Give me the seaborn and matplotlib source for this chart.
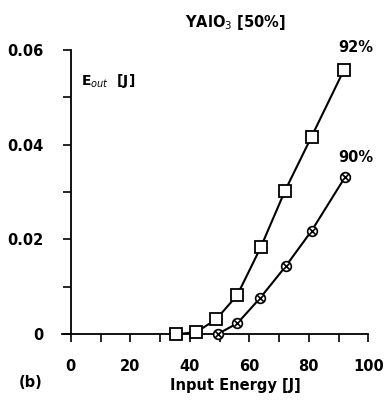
import matplotlib
matplotlib.use("Agg")
import matplotlib.pyplot as plt
import seaborn as sns
import pandas as pd

x_92 = [35.5, 42.1, 48.8, 55.9, 63.8, 72.0, 80.9, 91.8]
y_92 = [0.0, 0.0004, 0.0031, 0.0082, 0.0183, 0.0303, 0.0417, 0.0558]
x_90 = [49.3, 56.0, 63.6, 72.3, 80.9, 92.2]
y_90 = [0.0, 0.0023, 0.0076, 0.0144, 0.0218, 0.0332]
x_ticks = [0, 20, 40, 60, 80, 100]
y_ticks = [0, 0.02, 0.04, 0.06]
y_tick_labels = ["0", "0.02", "0.04", "0.06"]

sns.set_style("white")
plt.rcParams['font.family'] = ['DejaVu Sans']
plt.rcParams['text.color'] = 'black'

fig = plt.figure(figsize=(3.89, 4.05), dpi=100)
ax = fig.add_axes([0.182, 0.175, 0.765, 0.7015])

df92 = pd.DataFrame({"x": x_92, "y": y_92})
df90 = pd.DataFrame({"x": x_90, "y": y_90})

sns.lineplot(data=df92, x="x", y="y", ax=ax, color="black", lw=1.5,
             marker="s", markersize=8.5, markerfacecolor="white",
             markeredgecolor="black", markeredgewidth=1.3, zorder=3)
sns.lineplot(data=df90, x="x", y="y", ax=ax, color="black", lw=1.5,
             marker="o", markersize=7, markerfacecolor="white",
             markeredgecolor="black", markeredgewidth=1.2, zorder=3)
sns.scatterplot(data=df90, x="x", y="y", ax=ax, marker="x", s=22,
                color="black", linewidth=1.2, zorder=4)

ax.set_xlim(0, 100)
ax.set_ylim(0, 0.06)
ax.set_xticks(x_ticks)
ax.set_xticks(range(0, 101, 10), minor=True)
ax.set_yticks(y_ticks)
ax.set_yticks([0.01, 0.03, 0.05], minor=True)
ax.set_yticklabels(y_tick_labels)
for s in ["top", "right"]:
    ax.spines[s].set_visible(False)
for s in ["left", "bottom"]:
    ax.spines[s].set_color("black")
    ax.spines[s].set_linewidth(1.3)
ax.spines["bottom"].set_bounds(-3, 100)
ax.tick_params(axis="both", which="both", direction="out", color="black",
               width=1.2, labelsize=10.5, labelcolor="black",
               bottom=True, left=True, top=False, right=False)
ax.tick_params(axis="both", which="both", length=6)
ax.tick_params(axis="x", which="major", pad=12)
ax.tick_params(axis="y", which="major", pad=14)
for lbl in ax.get_xticklabels() + ax.get_yticklabels():
    lbl.set_fontweight("bold")
ax.set_xlabel("")
ax.set_ylabel("")
ax.grid(False)
for ln in ax.lines:
    ln.set_clip_on(False)
for c in ax.collections:
    c.set_clip_on(False)

fig.text(0.605, 0.945, r"YAlO$_3$ [50%]", ha="center", va="center",
         fontsize=10.5, fontweight="bold", color="black")
ax.text(3.5, 0.0535, r"E$_{out}$  [J]", ha="left", va="center",
        fontsize=10, fontweight="bold", color="black")
fig.text(0.915, 0.882, "92%", ha="center", va="center", fontsize=10.5,
         fontweight="bold", color="black")
fig.text(0.915, 0.61, "90%", ha="center", va="center", fontsize=10.5,
         fontweight="bold", color="black")
fig.text(0.605, 0.047, "Input Energy [J]", ha="center", va="center",
         fontsize=10.5, fontweight="bold", color="black")
fig.text(0.078, 0.055, "(b)", ha="center", va="center", fontsize=10.5,
         fontweight="bold", color="black")

fig.savefig("out.png", dpi=100)
